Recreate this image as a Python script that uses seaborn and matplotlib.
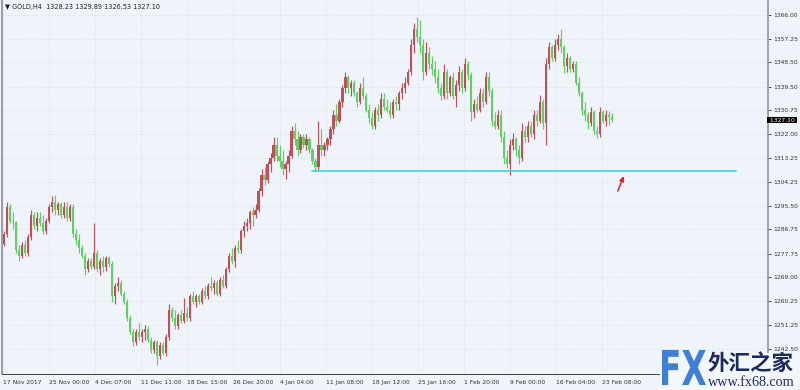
import numpy as np
import pandas as pd
import seaborn as sns
import matplotlib.pyplot as plt
import matplotlib.transforms as mtransforms
from matplotlib.textpath import TextPath
from matplotlib.patches import PathPatch, Rectangle
from matplotlib.font_manager import FontProperties

# GOLD H4 candles (oldest first)
opens = [1281.5, 1285, 1295, 1290, 1289.5, 1279, 1277, 1281, 1278, 1284, 1292, 1288, 1291, 1289, 1286, 1290, 1295, 1297, 1294, 1296,
         1292, 1295, 1291, 1295, 1285, 1283, 1280, 1277, 1272, 1275, 1273, 1278, 1272, 1275, 1273, 1276, 1274, 1262, 1266, 1267,
         1263, 1260, 1254, 1249, 1245, 1249, 1247, 1249, 1250, 1246, 1242, 1245, 1240, 1244, 1241, 1247, 1257, 1254, 1251, 1255,
         1253, 1256, 1254, 1262, 1260, 1262, 1260, 1264, 1262, 1266, 1265, 1267, 1263, 1268, 1266, 1272, 1277, 1275, 1280, 1279,
         1286, 1288, 1289, 1293, 1292, 1294, 1301, 1307, 1305, 1311, 1313, 1318, 1314, 1312, 1309, 1311, 1314, 1323, 1320, 1316,
         1321, 1318, 1320, 1316, 1312, 1310, 1318, 1316, 1318, 1320, 1324, 1329, 1327, 1334, 1339, 1343, 1339, 1341, 1337, 1334,
         1339, 1336, 1331, 1328, 1325, 1331, 1329, 1335, 1332, 1331, 1329, 1334, 1333, 1337, 1339, 1341, 1345, 1355, 1361, 1358,
         1355, 1345, 1352, 1348, 1346, 1343, 1339, 1336, 1345, 1337, 1343, 1336, 1340, 1345, 1339, 1348, 1344, 1330, 1333, 1331,
         1337, 1334, 1343, 1338, 1327, 1325, 1329, 1321, 1313, 1311, 1318, 1320, 1316, 1313, 1323, 1321, 1325, 1322, 1329, 1327,
         1334, 1326, 1348, 1354, 1350, 1355, 1357, 1354, 1347, 1350, 1346, 1348, 1341, 1337, 1331, 1329, 1326, 1330, 1323, 1322,
         1330, 1327, 1329, 1328.23]
highs = [1286, 1297, 1296, 1293, 1290, 1281, 1282, 1283, 1285, 1294, 1293, 1293, 1293, 1292, 1291, 1296, 1299, 1299.5, 1297, 1297,
         1297, 1297, 1296, 1296, 1287, 1285, 1281, 1278, 1276, 1276, 1289, 1279, 1276, 1277, 1277, 1277, 1275, 1267, 1269, 1268,
         1264, 1261, 1255, 1250, 1250, 1252, 1250, 1251.5, 1251, 1247, 1246, 1246, 1245, 1245, 1248, 1259, 1258, 1257, 1256, 1257,
         1261.5, 1258, 1263, 1264, 1263, 1263, 1265, 1266, 1267, 1269, 1268, 1268, 1269, 1270, 1273, 1278, 1280, 1281, 1283, 1287,
         1290, 1291, 1294, 1295, 1296, 1302, 1309, 1310, 1312, 1315, 1321, 1321, 1318, 1316, 1312, 1316, 1325, 1326, 1323, 1322,
         1322, 1322, 1321, 1317, 1313, 1327, 1324, 1319, 1321, 1325, 1331, 1333, 1335, 1340, 1345, 1344, 1342, 1342, 1338, 1341,
         1343, 1337, 1333, 1330, 1332, 1333, 1337, 1337, 1335, 1334, 1335, 1336, 1338, 1341, 1343, 1346, 1357, 1363, 1365.3, 1364,
         1357, 1356, 1354, 1351, 1349, 1346, 1341, 1348, 1346, 1344, 1345, 1342, 1347, 1346, 1350, 1349, 1345, 1335, 1336, 1339,
         1339, 1345, 1345, 1339, 1330, 1331, 1331, 1323, 1316, 1320, 1322.5, 1321, 1318, 1326, 1325, 1327, 1327, 1331, 1331, 1336.5,
         1335, 1350, 1356, 1355, 1357, 1359, 1361, 1355, 1352, 1351, 1349, 1349, 1343, 1338, 1334, 1330, 1332, 1331, 1325, 1332,
         1331, 1331, 1330.5, 1329.89]
lows = [1280.5, 1284, 1289, 1287, 1278, 1275, 1276, 1277, 1277, 1283, 1287, 1286, 1288, 1285, 1285, 1289, 1293, 1292, 1292, 1291,
        1291, 1290, 1290, 1284, 1281, 1278, 1276, 1270, 1271, 1272, 1272, 1271, 1270, 1271, 1271.5, 1273, 1260, 1259, 1264, 1262,
        1259, 1253, 1248, 1243.5, 1244, 1246, 1245, 1246, 1245, 1241, 1241, 1236.5, 1239, 1240.5, 1240, 1246, 1253, 1250, 1250, 1252,
        1252, 1253, 1253, 1259, 1258, 1259, 1259, 1261, 1261, 1264, 1263, 1262, 1262, 1265, 1265, 1271, 1274, 1273, 1278, 1278,
        1284, 1286, 1287, 1288, 1291, 1293, 1299, 1303, 1304, 1308, 1312, 1312, 1310, 1307, 1305.5, 1308, 1313, 1318, 1314, 1315,
        1317, 1316, 1315, 1311, 1308, 1308.3, 1314, 1314, 1316, 1318, 1322, 1325, 1326, 1332, 1337, 1337, 1336, 1336, 1332, 1333,
        1335, 1330, 1326, 1324, 1324, 1327, 1328, 1331, 1330, 1328, 1328, 1331, 1331, 1335, 1337, 1340, 1344, 1352, 1356, 1352,
        1342, 1344, 1346, 1344, 1341, 1337, 1334.5, 1335, 1335, 1336, 1335, 1332, 1338, 1337, 1338, 1342, 1327, 1328, 1330, 1330,
        1332, 1333, 1336, 1325, 1324, 1324, 1319, 1311, 1309.5, 1306.9, 1316, 1314, 1311, 1312, 1319, 1319, 1321, 1320, 1325, 1326,
        1324, 1318, 1346, 1349, 1349, 1353, 1352, 1344.5, 1345, 1345, 1345, 1340, 1336, 1329, 1327, 1324, 1325, 1322, 1320.5, 1321,
        1326, 1325, 1325.5, 1326.53]
closes = [1285, 1295, 1290, 1289.5, 1279, 1277, 1281, 1278, 1284, 1292, 1288, 1291, 1289, 1286, 1290, 1295, 1297, 1294, 1296, 1292,
          1295, 1291, 1295, 1285, 1283, 1280, 1277, 1272, 1275, 1273, 1278, 1272, 1275, 1273, 1276, 1274, 1262, 1266, 1267, 1263,
          1260, 1254, 1249, 1245, 1249, 1247, 1249, 1250, 1246, 1242, 1245, 1240, 1244, 1241, 1247, 1257, 1254, 1251, 1255, 1253,
          1256, 1254, 1262, 1260, 1262, 1260, 1264, 1262, 1266, 1265, 1267, 1263, 1268, 1266, 1272, 1277, 1275, 1280, 1279, 1286,
          1288, 1289, 1293, 1292, 1294, 1301, 1307, 1305, 1311, 1313, 1318, 1314, 1312, 1309, 1311, 1314, 1323, 1320, 1316, 1321,
          1318, 1320, 1316, 1312, 1310, 1318, 1316, 1318, 1320, 1324, 1329, 1327, 1334, 1339, 1343, 1339, 1341, 1337, 1334, 1339,
          1336, 1331, 1328, 1325, 1331, 1329, 1335, 1332, 1331, 1329, 1334, 1333, 1337, 1339, 1341, 1345, 1355, 1361, 1358, 1355,
          1345, 1352, 1348, 1346, 1343, 1339, 1336, 1345, 1337, 1343, 1336, 1340, 1345, 1339, 1348, 1344, 1330, 1333, 1331, 1337,
          1334, 1343, 1338, 1327, 1325, 1329, 1321, 1313, 1311, 1318, 1320, 1316, 1313, 1323, 1321, 1325, 1322, 1329, 1327, 1334,
          1326, 1348, 1354, 1350, 1355, 1357, 1354, 1347, 1350, 1346, 1348, 1341, 1337, 1331, 1329, 1326, 1330, 1323, 1322, 1330,
          1327, 1329, 1328.23, 1327.10]

time_labels = ["17 Nov 2017", "25 Nov 00:00", "4 Dec 07:00", "11 Dec 11:00", "18 Dec 15:00", "26 Dec 20:00",
               "4 Jan 04:00", "11 Jan 08:00", "18 Jan 12:00", "25 Jan 16:00", "1 Feb 20:00", "9 Feb 00:00",
               "16 Feb 04:00", "23 Feb 08:00"]
price_ticks = [1366.00, 1357.25, 1348.50, 1339.50, 1330.75, 1322.00, 1313.25, 1304.25,
               1295.50, 1286.75, 1277.75, 1269.00, 1260.25, 1251.25, 1242.50]
support_level = 1308.3
support_start = 103
header = "\u25bc GOLD,H4  1328.23 1329.89 1326.53 1327.10"

df = pd.DataFrame({'open': opens, 'high': highs, 'low': lows, 'close': closes})
df['bar'] = np.arange(len(df))
df['up'] = df['close'] >= df['open']

sns.set_theme(style='white')
plt.rcParams['font.family'] = ['DejaVu Sans']

BG = '#eff4fa'
UP = '#bf4f59'
DOWN = '#62cf62'
FS = 4.3

fig = plt.figure(figsize=(8, 3.9), dpi=100, facecolor=BG)
ax = fig.add_axes([2 / 800, 16 / 390, 766 / 800, 374 / 390])
ax.set_facecolor(BG)

colors = np.where(df['up'], UP, DOWN)
ax.vlines(df['bar'], df['low'], df['high'], colors=colors, lw=0.85, zorder=3)
body = (df['close'] - df['open']).abs().clip(lower=0.5)
ax.bar(df['bar'], body, bottom=df[['open', 'close']].min(axis=1), width=0.72,
       color=colors, linewidth=0, zorder=3)

# horizontal support line
sns.lineplot(x=[support_start, 244.5], y=[support_level, support_level],
             color='#45d8e0', lw=1.3, ax=ax, zorder=4)

# arrow pointing at the support
ax.annotate('', xy=(207.3, 1307.4), xytext=(204.6, 1300.0),
            arrowprops=dict(arrowstyle='-|>', color='#e02525', lw=1.1, mutation_scale=7), zorder=5)

ax.set_xlim(-0.67, 255.1)
ax.set_ylim(1233.3, 1371.55)

ax.set_xticks(-0.33 + 15.39 * np.arange(len(time_labels)))
ax.set_xticklabels(time_labels, ha='left')
ax.yaxis.tick_right()
ax.set_yticks(price_ticks)
ax.set_yticklabels([f"{v:.2f}" for v in price_ticks])
ax.tick_params(axis='x', direction='out', length=3, width=0.6, pad=1.5,
               labelsize=FS, colors='#303030')
ax.tick_params(axis='y', direction='out', length=2.5, width=0.6, pad=1.5,
               labelsize=FS, colors='#303030')
ax.grid(True, color='#c9d3de', linestyle=(0, (1, 2)), lw=0.5)

ax.spines['top'].set_visible(False)
ax.spines['left'].set_color('#8a8f96')
ax.spines['left'].set_linewidth(1.2)
ax.spines['bottom'].set_color('#404040')
ax.spines['bottom'].set_linewidth(0.7)
ax.spines['right'].set_color('#8f969e')
ax.spines['right'].set_linewidth(1.2)

ax.set_xlabel('')
ax.set_ylabel('')

fig.text(5 / 800, 1 - 7 / 390, header, fontsize=4.7, va='center', color='#202020')

# current price tag
ax.text(1.0, closes[-1], f" {closes[-1]:.2f} ",
        transform=mtransforms.blended_transform_factory(ax.transAxes, ax.transData),
        ha='left', va='center', fontsize=FS, color='white',
        bbox=dict(boxstyle='square,pad=0.12', fc='black', ec='none'), zorder=6)

# watermark logo
fig.add_artist(Rectangle((660 / 800, 0), 140 / 800, 37 / 390, transform=fig.transFigure,
                         fc='#f3f6fa', ec='none', zorder=10))
tp = TextPath((0, 0), "FX", size=1, prop=FontProperties(family='DejaVu Sans', weight='bold'))
ext = tp.get_extents()
tr = (mtransforms.Affine2D().translate(-ext.x0, -ext.y0)
      .scale(44 / ext.width, 35 / ext.height).translate(662, 5)
      .scale(1 / 800, 1 / 390) + fig.transFigure)
fig.add_artist(PathPatch(tp, transform=tr, fc='#3f7fd6', ec='none', zorder=11))
fig.text(708 / 800, 1 - 363.5 / 390, "外汇之家", fontsize=15.5, fontweight='bold',
         family=['Noto Sans CJK SC', 'DejaVu Sans'], color='#1c2b5e', va='center', ha='left', zorder=12)
fig.text(708 / 800, 1 - 382 / 390, "www.fx68.com", fontsize=10.2, family='Liberation Serif',
         color='#1c2b5e', va='center', ha='left', zorder=12)

fig.savefig('out.png', dpi=100, facecolor=BG)
